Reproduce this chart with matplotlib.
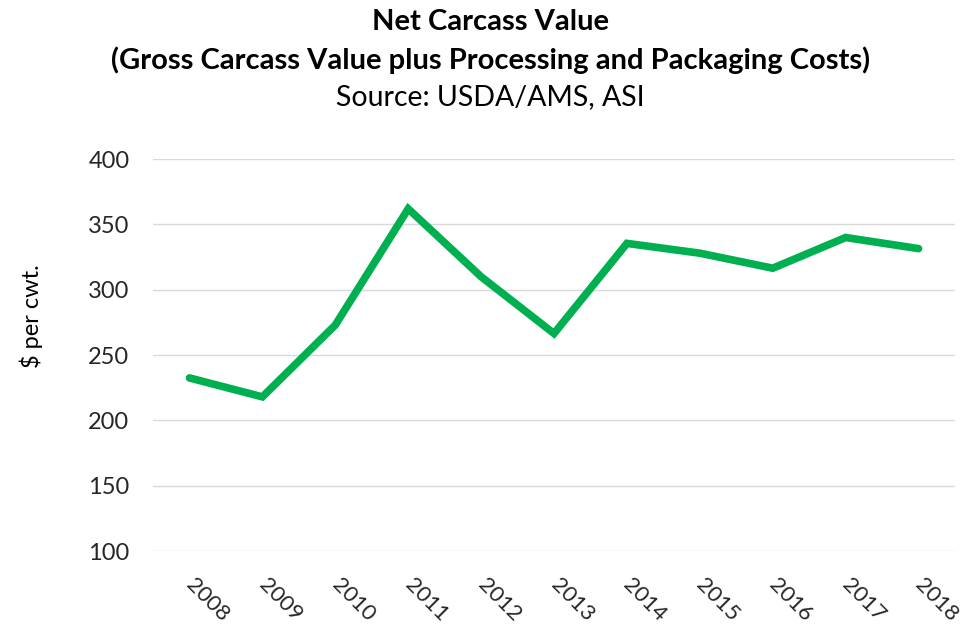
import matplotlib
matplotlib.use("Agg")
from matplotlib import pyplot as plt
from matplotlib import transforms

# net carcass value, $ per cwt
years = ["2008", "2009", "2010", "2011", "2012", "2013",
         "2014", "2015", "2016", "2017", "2018"]
values = [232.5, 218, 273, 362, 310, 266.5, 335.5, 328, 316.5, 340, 331.5]

plt.rcParams['font.family'] = ['Lato', 'DejaVu Sans']

fig = plt.figure(figsize=(9.63, 6.29), dpi=100)
ax = fig.add_axes([0.1589, 0.124, 0.8328, 0.623])

x = list(range(len(years)))
ax.plot(x, values, color='#00B050', linewidth=5.5, solid_joinstyle='miter',
        solid_capstyle='round', zorder=3)

ax.set_xlim(-0.5, len(years) - 0.5)
ax.set_ylim(100, 400)
ax.set_yticks([100, 150, 200, 250, 300, 350, 400])
ax.grid(axis='y', color='#d9d9d9', linewidth=1)
ax.set_axisbelow(True)
for s in ax.spines.values():
    s.set_visible(False)
ax.tick_params(axis='both', length=0, labelsize=17, colors='#262626')
ax.tick_params(axis='y', pad=17)

ax.set_xticks(x)
ax.set_xticklabels(years, rotation=-45, ha='center', va='top', fontsize=16)
ax.tick_params(axis='x', pad=17)
# shift the slanted labels a bit to the right, like the original
shift = transforms.ScaledTranslation(0.18, 0, fig.dpi_scale_trans)
for lab in ax.get_xticklabels():
    lab.set_transform(lab.get_transform() + shift)

fig.text(0.032, 0.498, '$ per cwt.', rotation=90, ha='center', va='center',
         fontsize=17, color='black')

fig.text(0.509, 0.965, 'Net Carcass Value', ha='center', va='center',
         fontsize=21, fontweight='bold')
fig.text(0.509, 0.905, '(Gross Carcass Value plus Processing and Packaging Costs)',
         ha='center', va='center', fontsize=21, fontweight='bold')
fig.text(0.509, 0.846, 'Source: USDA/AMS, ASI', ha='center', va='center',
         fontsize=20.5)

fig.savefig('out.png', dpi=100)
